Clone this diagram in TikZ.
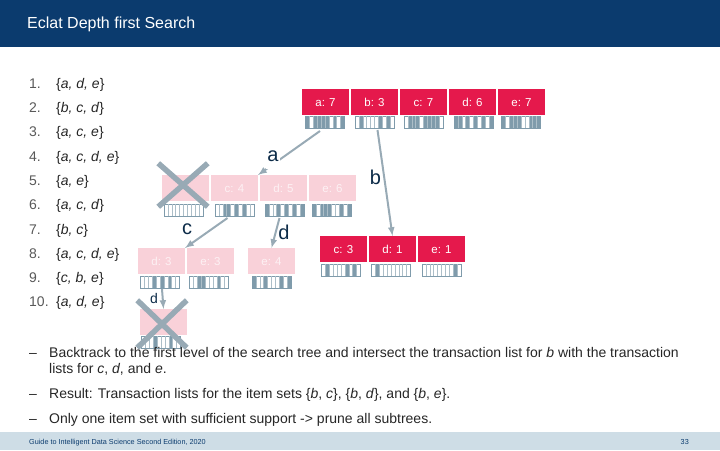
\documentclass[tikz,border=0pt]{standalone}
\usepackage{fontspec}
\setmainfont{Liberation Sans}
\usetikzlibrary{positioning,calc,shapes.misc}

\definecolor{bandnavy}{HTML}{0B3B6E}
\definecolor{footblue}{HTML}{CEDDE6}
\definecolor{itemred}{HTML}{E5194C}
\definecolor{itempale}{HTML}{F9D1D9}
\definecolor{tidgray}{HTML}{7F9BAB}
\definecolor{arrowgray}{HTML}{98AAB5}
\definecolor{inknavy}{HTML}{0C2B48}

\tikzset{
  itembox/.style = {minimum width = 47pt, minimum height = 26pt, inner sep = 0pt, outer sep = 0pt, text height = 8.5pt, text depth = 0pt, fill = itemred, text = white, font = \fontsize{11.5}{13}\selectfont},
  palebox/.style = {itembox, fill = itempale, text = white!70!itempale},
  tidbox/.style = {draw = tidgray, line width = 0.8pt, minimum width = 39pt, minimum height = 12pt, inner sep = 0pt, outer sep = 0pt},
  walk/.style = {draw = arrowgray, line width = 2pt, -latex},
  branch/.style = {text = inknavy, inner sep = 1pt, font = \fontsize{20}{22}\selectfont},
  crossmark/.style = {cross out, draw = arrowgray, line width = 5.5pt, inner sep = 0pt},
  listtext/.style = {anchor = base west, inner sep = 0pt, text = black!85, font = \fontsize{14}{16}\selectfont},
}

% transaction strip: name, position, filled cells
\newcommand{\tidstrip}[3]{
  \node[tidbox] (#1) at (#2) {};
  \foreach \cell in {#3}
    \fill[tidgray] ($(#1.north west) + (\cell*3.9 - 3.9,0)$) rectangle ($(#1.south west) + (\cell*3.9,0)$);
  \foreach \cell in {1,...,9}
    \draw[tidgray!65, line width = 0.5pt] ($(#1.north west) + (\cell*3.9,0)$) -- ($(#1.south west) + (\cell*3.9,0)$);
}

\begin{document}
\begin{tikzpicture}[x = 1pt, y = -1pt]
  \useasboundingbox (0,0) rectangle (720,450);
  \fill[bandnavy] (0,0) rectangle (720,47);
  \fill[footblue] (0,432) rectangle (720,450);
  \node[anchor = base west, inner sep = 0pt, text = white, font = \fontsize{16}{18}\selectfont] (title) at (27,28.5) {Eclat Depth first Search};
  \node[anchor = base west, inner sep = 0pt, text = bandnavy, font = \fontsize{7.25}{8}\selectfont] (guide) at (29,444) {Guide to Intelligent Data Science Second Edition, 2020};
  \node[anchor = base east, inner sep = 0pt, text = bandnavy, font = \fontsize{7.25}{8}\selectfont] (page) at (689,444) {33};

  % transactions
  \foreach \num/\items/\ypos in {1./{a, d, e}/88, 2./{b, c, d}/112, 3./{a, c, e}/136, 4./{a, c, d, e}/161, 5./{a, e}/185, 6./{a, c, d}/209, 7./{b, c}/234, 8./{a, c, d, e}/258, 9./{c, b, e}/282, 10./{a, d, e}/306} {
    \node[listtext, text = black!65] (n\num) at (29,\ypos) {\num};
    \node[listtext] (t\num) at (56,\ypos) {\{\textit{\items}\}};
  }

  % first level
  \node[itembox] (a7) at (325.5,102) {a: 7};
  \node[itembox, right = 2pt of a7] (b3) {b: 3};
  \node[itembox, right = 2pt of b3] (c7) {c: 7};
  \node[itembox, right = 2pt of c7] (d6) {d: 6};
  \node[itembox, right = 2pt of d6] (e7) {e: 7};
  \tidstrip{ta}{325,122}{1,3,4,5,6,8,10}
  \tidstrip{tb}{374.5,122}{2,7,9}
  \tidstrip{tc}{423.5,122}{2,3,4,6,7,8,9}
  \tidstrip{td}{473.5,122}{1,2,4,6,8,10}
  \tidstrip{te}{521,122}{1,3,4,5,8,9,10}

  % below a
  \node[palebox] (ab) at (185.5,188) {};
  \node[palebox, right = 2pt of ab] (ac) {c: 4};
  \node[palebox, right = 2pt of ac] (ad) {d: 5};
  \node[palebox, right = 2pt of ad] (ae) {e: 6};
  \tidstrip{tab}{183.5,210}{}
  \tidstrip{tac}{234.5,210}{3,4,6,8}
  \tidstrip{tad}{284.5,210}{1,4,6,8,10}
  \tidstrip{tae}{331.5,210}{1,3,4,5,8,10}

  % below ac and ad
  \node[palebox] (acd) at (161.5,261) {d: 3};
  \node[palebox, right = 2pt of acd] (ace) {e: 3};
  \node[palebox] (ade) at (271.5,261) {e: 4};
  \tidstrip{tacd}{160,282}{4,6,8}
  \tidstrip{tace}{209,282}{3,4,8}
  \tidstrip{tade}{271.5,282}{1,4,8,10}

  % below acd
  \node[palebox] (acde) at (163.5,322) {};
  \tidstrip{tacde}{161,342}{4,8}

  % below b
  \node[itembox] (bc) at (343.5,249) {c: 3};
  \node[itembox, right = 2pt of bc] (bd) {d: 1};
  \node[itembox, right = 2pt of bd] (be) {e: 1};
  \tidstrip{tbc}{341,270}{2,7,9}
  \tidstrip{tbd}{391,270}{2}
  \tidstrip{tbe}{441.5,270}{9}

  % search steps
  \draw[walk] ($(ta.south) + (-5,3)$) -- (ac.north east);
  \node[branch, fill = white, minimum height = 26pt, minimum width = 14pt] (la) at (273,156) {a};
  \draw[walk] ($(tb.south) + (3,2)$) -- (bd.north);
  \node[branch] (lb) at (375.5,177) {b};
  \draw[walk] ($(tac.south) + (-7,2)$) -- (acd.north east);
  \node[branch] (lc) at (187,229) {c};
  \draw[walk] ($(tad.south) + (-5,2)$) -- (ade.north);
  \node[branch] (ld) at (284,232) {d};
  \draw[walk] ($(tacd.south) + (2,1)$) -- (acde.north);
  \node[text = inknavy, inner sep = 1pt, font = \fontsize{14}{16}\selectfont] (lacd) at (154,298) {d};

  \node[crossmark, minimum width = 44pt, minimum height = 38pt] (xab) at (183,185) {};
  \node[crossmark, minimum width = 44pt, minimum height = 42pt] (xacde) at (162,324) {};

  % remarks
  \foreach \ypos/\name in {357/ra,398/rb,423/rc}
    \node[listtext] (\name) at (29,\ypos) {--};
  \node[listtext] (ra1) at (49,357) {Backtrack to the first level of the search tree and intersect the transaction list for \textit{b} with the transaction};
  \node[listtext] (ra2) at (49,373) {lists for \textit{c}, \textit{d}, and \textit{e}.};
  \node[listtext] (rb1) at (49,398) {Result: Transaction lists for the item sets \{\textit{b}, \textit{c}\}, \{\textit{b}, \textit{d}\}, and \{\textit{b}, \textit{e}\}.};
  \node[listtext] (rc1) at (49,423) {Only one item set with sufficient support -> prune all subtrees.};
\end{tikzpicture}
\end{document}
